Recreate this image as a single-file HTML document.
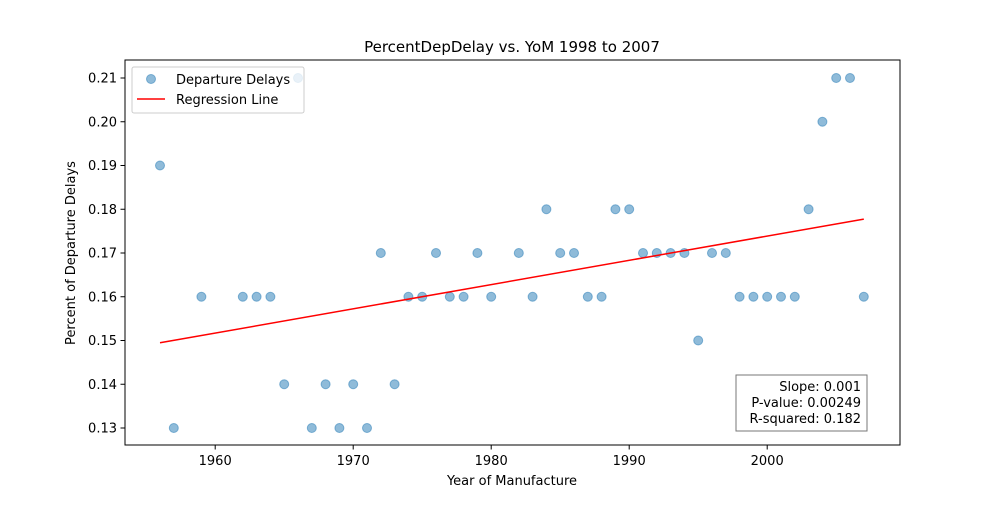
<!DOCTYPE html>
<html><head><meta charset="utf-8"><style>
body{margin:0;background:#fff;font-family:"Liberation Sans","DejaVu Sans",sans-serif}
svg text{font-family:"DejaVu Sans","Liberation Sans",sans-serif;fill:#000}
</style></head><body>
<svg id="c" width="1000" height="500" xmlns="http://www.w3.org/2000/svg">
<rect width="1000" height="500" fill="#fff"/>
<text x="512" y="52" font-size="15" text-anchor="middle">PercentDepDelay vs. YoM 1998 to 2007</text>
<text x="512" y="485" font-size="13" text-anchor="middle">Year of Manufacture</text>
<text x="75" y="253" font-size="13" text-anchor="middle" transform="rotate(-90 75 253)">Percent of Departure Delays</text>
<g id="marks"></g>
<rect x="125" y="60" width="775" height="385" fill="none" stroke="#000" stroke-width="1"/>
<g>
<rect x="132" y="67" width="172" height="46" fill="#fff" fill-opacity="0.8" stroke="#ccc" rx="2"/>
<circle cx="151" cy="79" r="4.5" fill="#1f77b4" fill-opacity="0.5" stroke="#1f77b4" stroke-opacity="0.5"/>
<text x="176" y="84" font-size="13">Departure Delays</text>
<line x1="137" y1="99" x2="165" y2="99" stroke="red" stroke-width="1.5"/>
<text x="176" y="104" font-size="13">Regression Line</text>
</g>
<g>
<rect x="736" y="375" width="131" height="56" fill="#fff" stroke="#777"/>
<text x="861" y="391" font-size="13" text-anchor="end">Slope: 0.001</text>
<text x="861" y="407" font-size="13" text-anchor="end">P-value: 0.00249</text>
<text x="861" y="423" font-size="13" text-anchor="end">R-squared: 0.182</text>
</g>
</svg>
<script>
const years=[1956,1957,1959,1962,1963,1964,1965,1966,1967,1968,1969,1970,1971,1972,1973,1974,1975,1976,1977,1978,1979,1980,1982,1983,1984,1985,1986,1987,1988,1989,1990,1991,1992,1993,1994,1995,1996,1997,1998,1999,2000,2001,2002,2003,2004,2005,2006,2007];
const delays=[0.19,0.13,0.16,0.16,0.16,0.16,0.14,0.21,0.13,0.14,0.13,0.14,0.13,0.17,0.14,0.16,0.16,0.17,0.16,0.16,0.17,0.16,0.17,0.16,0.18,0.17,0.17,0.16,0.16,0.18,0.18,0.17,0.17,0.17,0.17,0.15,0.17,0.17,0.16,0.16,0.16,0.16,0.16,0.18,0.20,0.21,0.21,0.16];
const xTicks=[1960,1970,1980,1990,2000];
const yTicks=[0.13,0.14,0.15,0.16,0.17,0.18,0.19,0.20,0.21];
const ns="http://www.w3.org/2000/svg";
const X=v=>160+(v-1956)*13.8;
const Y=v=>428-(v-0.13)*4375;
const svg=document.getElementById('c'),g=document.getElementById('marks');
function mk(t,a){const e=document.createElementNS(ns,t);for(const k in a)e.setAttribute(k,a[k]);return e;}
xTicks.forEach(t=>{
  const l=mk('line',{x1:X(t),x2:X(t),y1:445,y2:449.5,stroke:'#000'});
  
  
  g.appendChild(l);
  const tx=mk('text',{x:X(t),y:465,'font-size':13,'text-anchor':'middle'});
  
  
  tx.textContent=t;g.appendChild(tx);
});
yTicks.forEach(t=>{
  const l=mk('line',{x1:120.5,x2:125,y1:Y(t),y2:Y(t),stroke:'#000'});
  
  
  g.appendChild(l);
  const tx=mk('text',{x:117,y:Y(t)+4.5,'font-size':13,'text-anchor':'end'});
  
  
  tx.textContent=t.toFixed(2);g.appendChild(tx);
});
years.forEach((yr,i)=>{
  const c=mk('circle',{cx:X(yr),cy:Y(delays[i]),r:4.5,fill:'#1f77b4','fill-opacity':0.5,stroke:'#1f77b4','stroke-opacity':0.5});
  
  
  g.appendChild(c);
});
const n=years.length,mx=years.reduce((a,b)=>a+b)/n,my=delays.reduce((a,b)=>a+b)/n;
let sxy=0,sxx=0;years.forEach((x,i)=>{sxy+=(x-mx)*(delays[i]-my);sxx+=(x-mx)**2;});
const b=sxy/sxx,a=my-b*mx,x0=Math.min(...years),x1=Math.max(...years);
const rl=mk('line',{x1:X(x0),y1:Y(a+b*x0),x2:X(x1),y2:Y(a+b*x1),stroke:'red','stroke-width':1.5});


g.appendChild(rl);
</script>
</body></html>
